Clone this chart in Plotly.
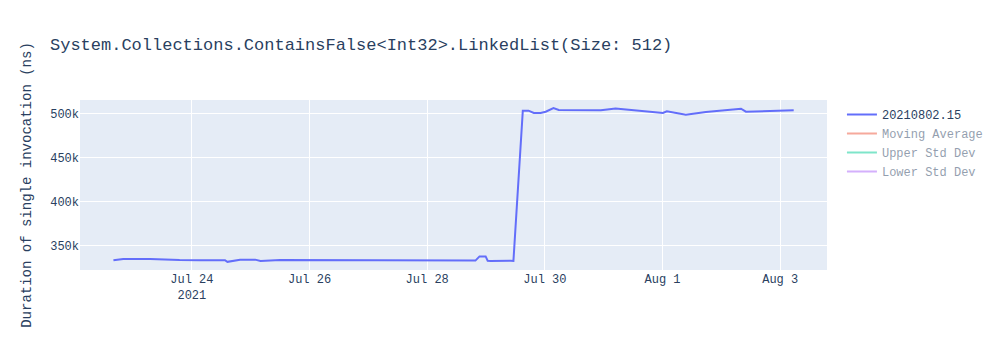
import plotly.graph_objects as go

series_name = "20210802.15"
dates = [
    "2021-07-22 16:00", "2021-07-22 20:00", "2021-07-23 07:00", "2021-07-23 09:00",
    "2021-07-23 13:00", "2021-07-23 19:00", "2021-07-24 03:20", "2021-07-24 13:30",
    "2021-07-24 14:30", "2021-07-24 17:00", "2021-07-24 19:40", "2021-07-25 01:50",
    "2021-07-25 04:00", "2021-07-25 12:00", "2021-07-26 00:20", "2021-07-26 16:40",
    "2021-07-27 13:00", "2021-07-28 05:20", "2021-07-28 19:40", "2021-07-28 21:20",
    "2021-07-28 23:50", "2021-07-29 00:40", "2021-07-29 01:50", "2021-07-29 10:00",
    "2021-07-29 11:10", "2021-07-29 15:00", "2021-07-29 17:20", "2021-07-29 19:30",
    "2021-07-29 22:15", "2021-07-30 00:20", "2021-07-30 03:30", "2021-07-30 05:40",
    "2021-07-30 08:30", "2021-07-30 14:40", "2021-07-30 22:50", "2021-07-31 04:50",
    "2021-07-31 07:00", "2021-07-31 15:00", "2021-07-31 21:15", "2021-08-01 00:10",
    "2021-08-01 01:45", "2021-08-01 05:25", "2021-08-01 09:30", "2021-08-01 17:40",
    "2021-08-02 08:00", "2021-08-02 10:00", "2021-08-02 18:10", "2021-08-03 00:20",
    "2021-08-03 05:30",
]
durations = [
    333400, 334900, 334900, 334600,
    334200, 333700, 333400, 333400,
    331600, 333000, 334100, 334100,
    332600, 333700, 333700, 333500,
    333400, 333300, 333000, 337800,
    337800, 332900, 332600, 332800,
    332600, 503800, 503800, 501100,
    501200, 502600, 506600, 504600,
    504500, 504900, 504200, 506300,
    505800, 503100, 502300, 501100,
    503000, 501100, 499200, 502300,
    506000, 502600, 503400, 504100,
    504200,
]

hidden_names = ["Moving Average", "Upper Std Dev", "Lower Std Dev"]
hidden_colors = ["#EF553B", "#00cc96", "#ab63fa"]

font_family = "Liberation Mono, Courier New, monospace"

fig = go.Figure()
fig.add_trace(go.Scatter(x=dates, y=durations, mode="lines", name=series_name,
                         line=dict(color="#636efa", width=2)))
for name, color in zip(hidden_names, hidden_colors):
    fig.add_trace(go.Scatter(x=dates, y=durations, mode="lines", name=name,
                             line=dict(color=color), visible="legendonly"))

fig.update_layout(
    width=1000, height=350,
    template="plotly",
    font=dict(family=font_family),
    title=dict(text="System.Collections.ContainsFalse&lt;Int32&gt;.LinkedList(Size: 512)"),
    yaxis=dict(title=dict(text="Duration of single invocation (ns)"),
               range=[322300, 515900]),
    xaxis=dict(range=["2021-07-22 02:22", "2021-08-03 19:05"]),
)
fig.write_html("out.html")
